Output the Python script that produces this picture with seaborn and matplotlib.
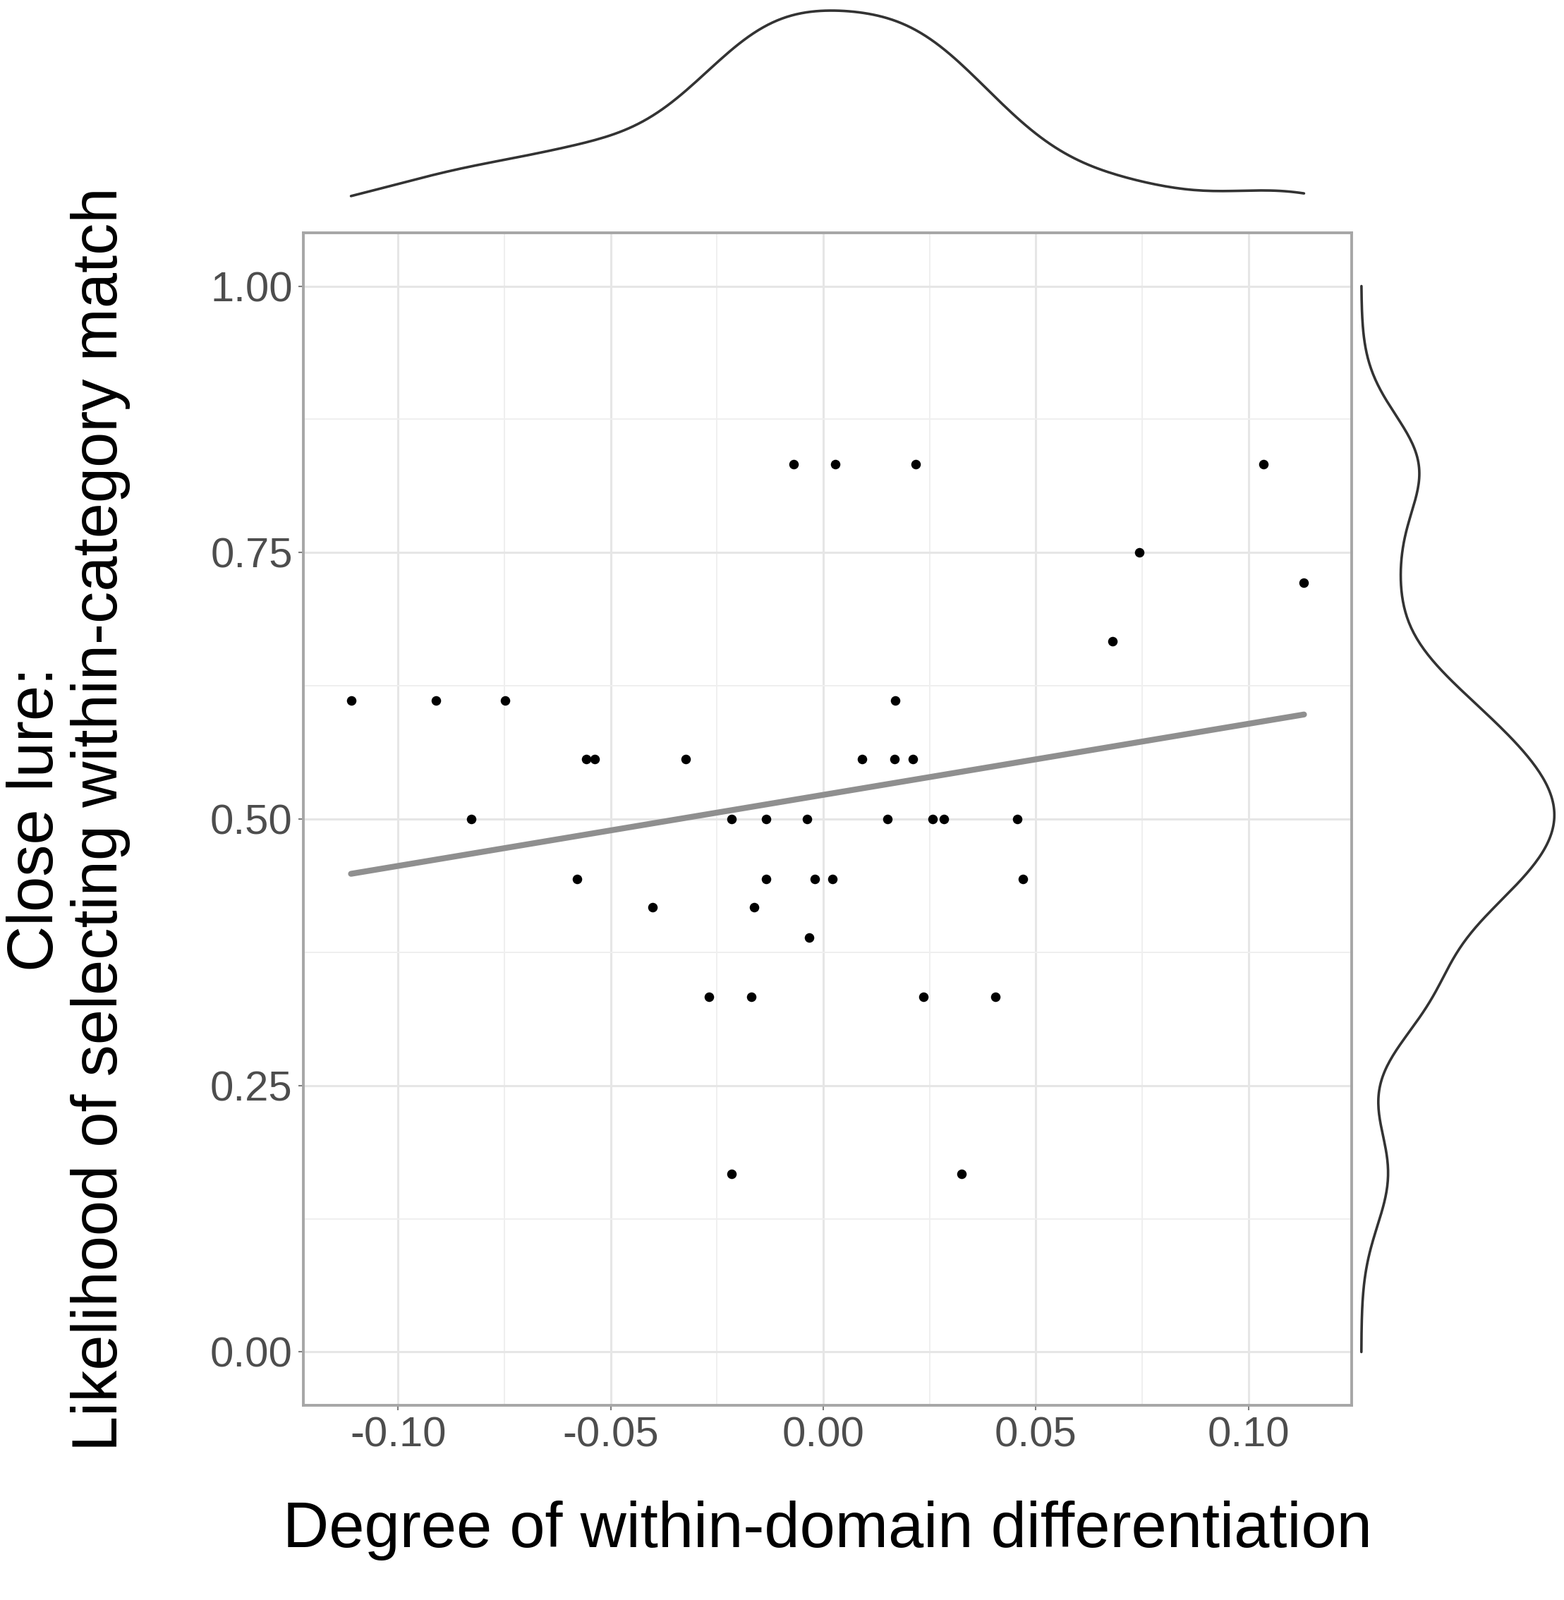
import numpy as np
import pandas as pd
import matplotlib
matplotlib.use("Agg")
import matplotlib.pyplot as plt
import seaborn as sns

# differentiation (x) and close-lure likelihood (y)
diff_x = [-0.1111, -0.0911, -0.0748, -0.0828, -0.0579, -0.0557, -0.0538, -0.0402,
          -0.0323, -0.0269, -0.0215, -0.0215, -0.0169, -0.0162, -0.0134, -0.0134,
          -0.0069, -0.0038, -0.0033, -0.0020, 0.0021, 0.0028, 0.0092, 0.0151,
          0.0169, 0.0167, 0.0210, 0.0218, 0.0236, 0.0257, 0.0284, 0.0325,
          0.0405, 0.0456, 0.0469, 0.0680, 0.0744, 0.1036, 0.1131]
lure_y = [0.611, 0.611, 0.611, 0.500, 0.444, 0.556, 0.556, 0.417,
          0.556, 0.333, 0.500, 0.167, 0.333, 0.417, 0.500, 0.444,
          0.833, 0.500, 0.389, 0.444, 0.444, 0.833, 0.556, 0.500,
          0.611, 0.556, 0.556, 0.833, 0.333, 0.500, 0.500, 0.167,
          0.333, 0.500, 0.444, 0.667, 0.750, 0.833, 0.722]

x_ticks = [-0.10, -0.05, 0.00, 0.05, 0.10]
x_tick_labels = ["-0.10", "-0.05", "0.00", "0.05", "0.10"]
y_ticks = [0.00, 0.25, 0.50, 0.75, 1.00]
y_tick_labels = ["0.00", "0.25", "0.50", "0.75", "1.00"]

df = pd.DataFrame({"diff": diff_x, "lure": lure_y})

sns.set_theme(style="white")
plt.rcParams["font.family"] = ["Liberation Sans", "DejaVu Sans"]


def nrd0(v):
    # R's default density bandwidth, as a factor of the sample sd
    v = np.asarray(v)
    sd = v.std(ddof=1)
    iqr = np.subtract(*np.percentile(v, [75, 25]))
    bw = 0.9 * min(sd, iqr / 1.34) * len(v) ** -0.2
    return bw / sd


fig = plt.figure(figsize=(22.17, 22.68), dpi=100)
W, H = 2217, 2268
L, R, T, B = 430, 1916, 330, 1992
ax = fig.add_axes([L / W, 1 - B / H, (R - L) / W, (B - T) / H])
ax_top = fig.add_axes([L / W, 1 - T / H, (R - L) / W, T / H])
ax_right = fig.add_axes([R / W, 1 - B / H, (W - R) / W, (B - T) / H])

# main panel
sns.regplot(data=df, x="diff", y="lure", ax=ax, ci=None,
            scatter_kws=dict(color="black", s=95, linewidths=0, alpha=1, zorder=3),
            line_kws=dict(color="#8f8f8f", lw=6, zorder=2))

xr = max(diff_x) - min(diff_x)
ax.set_xlim(min(diff_x) - 0.05 * xr, max(diff_x) + 0.05 * xr)
ax.set_ylim(-0.05, 1.05)
ax.set_xticks(x_ticks)
ax.set_xticklabels(x_tick_labels)
ax.set_yticks(y_ticks)
ax.set_yticklabels(y_tick_labels)
ax.set_xticks([-0.075, -0.025, 0.025, 0.075], minor=True)
ax.set_yticks([0.125, 0.375, 0.625, 0.875], minor=True)
ax.grid(True, which="major", color="#e6e6e6", lw=2.2)
ax.grid(True, which="minor", color="#efefef", lw=1.4)
ax.set_axisbelow(True)
for sp in ax.spines.values():
    sp.set_color("#a6a6a6")
    sp.set_linewidth(2.8)
ax.tick_params(axis="both", which="major", length=5, width=1.5, color="#7f7f7f",
               labelsize=43, labelcolor="#4d4d4d", pad=6, left=True, bottom=True)
ax.tick_params(axis="both", which="minor", length=0)
ax.set_xlabel("")
ax.set_ylabel("")

# top marginal density
sns.kdeplot(x=diff_x, ax=ax_top, bw_method=nrd0(diff_x), cut=0,
            color="#333333", lw=2.6)
top_max = ax_top.lines[0].get_ydata().max()
ax_top.set_xlim(ax.get_xlim())
ax_top.set_ylim(-0.05 * top_max, 1.05 * top_max)
ax_top.axis("off")

# right marginal density
sns.kdeplot(y=lure_y, ax=ax_right, bw_method=nrd0(lure_y), bw_adjust=0.9,
            cut=10, clip=(0, 1), color="#333333", lw=2.6, gridsize=400)
right_max = ax_right.lines[0].get_xdata().max()
ax_right.set_ylim(ax.get_ylim())
ax_right.set_xlim(-0.05 * right_max, 1.05 * right_max)
ax_right.axis("off")

fig.text((L + R) / 2 / W, 1 - 2169 / H, "Degree of within-domain differentiation",
         ha="center", va="center", fontsize=65, color="black")
fig.text(97 / W, 1 - (T + B) / 2 / H,
         "Close lure:\nLikelihood of selecting within-category match",
         ha="center", va="center", rotation=90, fontsize=65, color="black",
         linespacing=1.1, multialignment="center")

fig.savefig("out.png", dpi=100, facecolor="white")
